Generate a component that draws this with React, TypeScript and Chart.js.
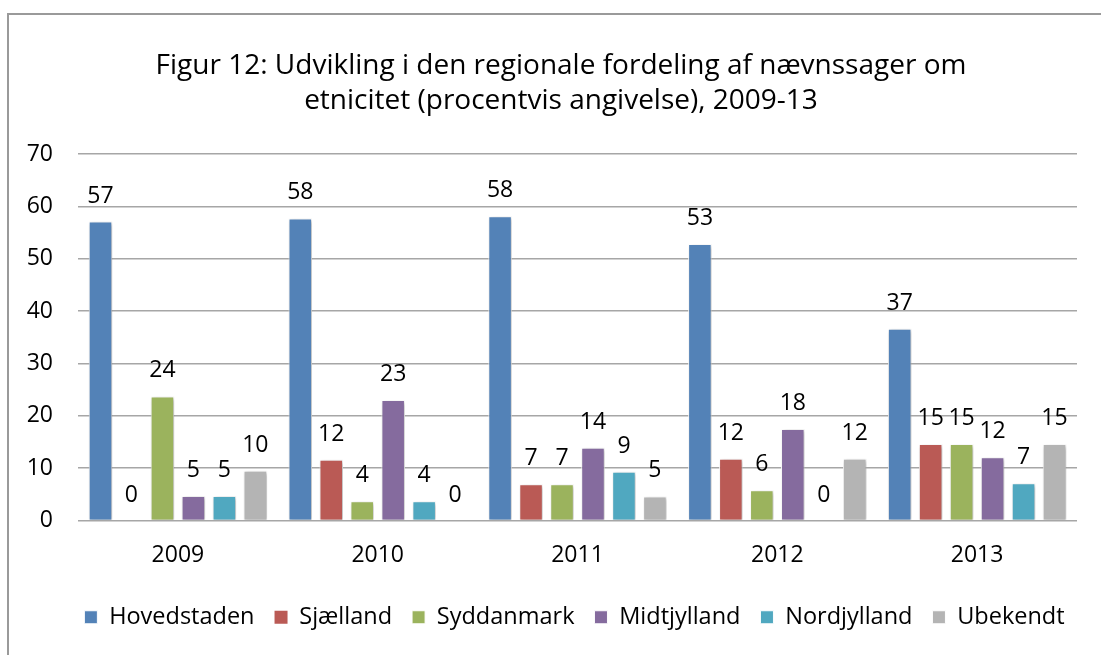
import React, { useEffect, useRef } from "react";
import { Chart, registerables } from "chart.js";

Chart.register(...registerables);

const years = ["2009", "2010", "2011", "2012", "2013"];
const seriesNames = ["Hovedstaden", "Sjælland", "Syddanmark", "Midtjylland", "Nordjylland", "Ubekendt"];
const hovedstaden = [57.1, 57.7, 58.1, 52.8, 36.6];
const sjaelland = [0, 11.6, 6.9, 11.8, 14.6];
const syddanmark = [23.7, 3.7, 6.9, 5.8, 14.6];
const midtjylland = [4.7, 23.0, 13.9, 17.5, 12.1];
const nordjylland = [4.7, 3.7, 9.3, 0, 7.1];
const ubekendt = [9.5, 0, 4.6, 11.8, 14.6];
const seriesColors = ["#5382B7", "#BA5A55", "#9BB35D", "#856B9E", "#50A8C0", "#B4B4B4"];
const yTicks = [0, 10, 20, 30, 40, 50, 60, 70];
const titleLines = [
  "Figur 12: Udvikling i den regionale fordeling af nævnssager om",
  "etnicitet (procentvis angivelse), 2009-13",
];

const FONT = "'Open Sans', sans-serif";

export default function App() {
  const ref = useRef<HTMLCanvasElement | null>(null);

  useEffect(() => {
    document.body.style.margin = "0";
    const canvas = ref.current;
    if (!canvas) return;
    const allSeries = [hovedstaden, sjaelland, syddanmark, midtjylland, nordjylland, ubekendt];

    const frame = {
      id: "frame",
      beforeDraw(chart: any) {
        const ctx = chart.ctx;
        ctx.save();
        ctx.fillStyle = "#ffffff";
        ctx.fillRect(0, 0, chart.width, chart.height);
        ctx.strokeStyle = "#9a9a9a";
        ctx.lineWidth = 2;
        ctx.beginPath();
        ctx.moveTo(8, chart.height);
        ctx.lineTo(8, 14);
        ctx.lineTo(chart.width, 14);
        ctx.stroke();
        ctx.restore();
      },
    };

    const shiftBoxes = {
      id: "shiftBoxes",
      afterLayout(chart: any) {
        if (chart.titleBlock) chart.titleBlock.left += 37;
        if (chart.legend) {
          chart.legend.left += 32;
          chart.legend.right += 32;
        }
      },
    };

    const shadow = {
      id: "barShadow",
      beforeDatasetDraw(chart: any) {
        const ctx = chart.ctx;
        ctx.save();
        ctx.shadowColor = "rgba(0,0,0,0.28)";
        ctx.shadowBlur = 4;
        ctx.shadowOffsetX = 1.5;
        ctx.shadowOffsetY = 1.5;
      },
      afterDatasetDraw(chart: any) {
        chart.ctx.restore();
      },
    };

    const labels = {
      id: "valueLabels",
      afterDatasetsDraw(chart: any) {
        const ctx = chart.ctx;
        ctx.save();
        ctx.fillStyle = "#000";
        ctx.font = `23px ${FONT}`;
        ctx.textAlign = "center";
        ctx.textBaseline = "alphabetic";
        chart.data.datasets.forEach((ds: any, i: number) => {
          const meta = chart.getDatasetMeta(i);
          meta.data.forEach((bar: any, j: number) => {
            const v = ds.data[j];
            ctx.fillText(String(Math.round(v)), bar.x, bar.y - 19);
          });
        });
        ctx.restore();
      },
    };

    const chart = new Chart(canvas, {
      type: "bar",
      data: {
        labels: years,
        datasets: seriesNames.map((name, i) => ({
          label: name,
          data: allSeries[i],
          backgroundColor: seriesColors[i],
          borderColor: "rgba(255,255,255,0.95)",
          borderWidth: (c: any) => (c.raw === 0 ? 0 : 1),
          categoryPercentage: 0.93,
          barPercentage: 0.76,
        })),
      },
      options: {
        animation: false,
        responsive: false,
        layout: { padding: { top: 0, left: 8, right: 24, bottom: 16 } },
        plugins: {
          title: {
            display: true,
            text: titleLines,
            color: "#000",
            font: { family: FONT, size: 28, weight: "normal", lineHeight: 35 / 28 },
            padding: { top: 49, bottom: 35 },
          },
          legend: {
            position: "bottom",
            labels: {
              color: "#000",
              font: { family: FONT, size: 23.5 },
              boxWidth: 13,
              boxHeight: 13,
              padding: 20,
            },
          },
          tooltip: { enabled: false },
        },
        scales: {
          x: {
            grid: { display: false, drawTicks: false },
            border: { display: false },
            ticks: { color: "#000", font: { family: FONT, size: 23 }, padding: 21 },
            afterFit: (s: any) => {
              s.height = 65;
            },
          },
          y: {
            min: 0,
            max: 70,
            afterBuildTicks: (s: any) => {
              s.ticks = yTicks.map((v) => ({ value: v }));
            },
            grid: { color: "#a6a6a6", lineWidth: 1.5, drawTicks: false },
            border: { display: false },
            ticks: { color: "#000", font: { family: FONT, size: 23 }, padding: 25 },
            afterFit: (s: any) => {
              s.width = 70;
            },
          },
        },
      },
      plugins: [frame, shiftBoxes, shadow, labels],
    });

    return () => chart.destroy();
  }, []);

  return (
    <div style={{ width: 1101, height: 655 }}>
      <canvas ref={ref} width={1101} height={655} style={{ display: "block" }} />
    </div>
  );
}
